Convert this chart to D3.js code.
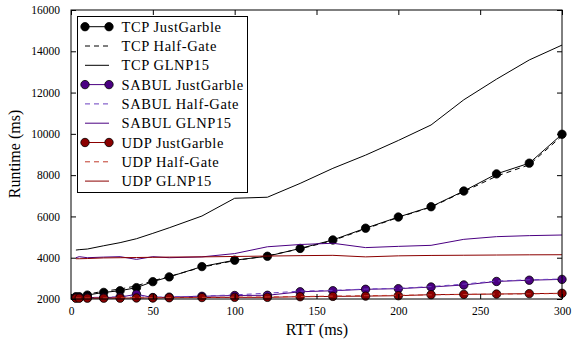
<!DOCTYPE html>
<html><head><meta charset="utf-8">
<script src="https://cdn.jsdelivr.net/npm/d3@7"></script>
<style>
body{margin:0;background:#fff;}
text{font-family:"Liberation Serif","DejaVu Serif",serif;fill:#000;}
</style></head>
<body><svg id="c" width="574" height="343"></svg>
<script>
const rtt = [3,5,10,20,30,40,50,60,80,100,120,140,160,180,200,220,240,260,280,300];
const tcpJustGarble = [2110,2110,2190,2320,2400,2550,2840,3070,3570,3880,4070,4450,4860,5430,5970,6470,7230,8060,8580,9980];
const tcpHalfGate   = [2130,2140,2230,2380,2480,2640,2880,3090,3540,3860,4090,4430,4830,5400,5950,6450,7200,7950,8500,9900];
const tcpGLNP15     = [4370,4390,4420,4580,4730,4920,5180,5450,6020,6880,6930,7600,8330,8970,9680,10430,11650,12650,13580,14300];
const sabulJustGarble = [2060,2060,2070,2070,2090,2230,2070,2090,2130,2170,2180,2350,2400,2470,2500,2580,2680,2850,2910,2950];
const sabulHalfGate   = [2070,2070,2080,2080,2110,2180,2090,2100,2140,2200,2280,2380,2420,2480,2520,2600,2720,2870,2930,2970];
const sabulGLNP15     = [4000,4050,4000,4030,4050,3920,4050,4000,4040,4200,4530,4640,4700,4490,4550,4600,4890,5020,5070,5100];
const udpJustGarble = [2040,2040,2040,2040,2040,2050,2050,2060,2070,2080,2080,2110,2125,2140,2160,2210,2225,2240,2260,2275];
const udpHalfGate   = [2050,2050,2050,2050,2060,2060,2060,2070,2080,2090,2100,2120,2140,2160,2180,2200,2220,2240,2250,2265];
const udpGLNP15     = [3950,3950,3960,3990,4000,4010,4020,4030,4040,4060,4080,4100,4115,4040,4090,4110,4120,4130,4140,4145];
const xTicks = [0,50,100,150,200,250,300];
const yTicks = [2000,4000,6000,8000,10000,12000,14000,16000];
const legendLabels = ["TCP JustGarble","TCP Half-Gate","TCP GLNP15","SABUL JustGarble","SABUL Half-Gate","SABUL GLNP15","UDP JustGarble","UDP Half-Gate","UDP GLNP15"];

const colors = {TCP:"#000000", SABUL:"#4b0082", UDP:"#8b0000"};
const dashColors = {TCP:"#000000", SABUL:"#6a3fbf", UDP:"#c0392b"};
const series = [
  {name:legendLabels[0], proto:"TCP", kind:"jg", v:tcpJustGarble},
  {name:legendLabels[1], proto:"TCP", kind:"hg", v:tcpHalfGate},
  {name:legendLabels[2], proto:"TCP", kind:"gl", v:tcpGLNP15},
  {name:legendLabels[3], proto:"SABUL", kind:"jg", v:sabulJustGarble},
  {name:legendLabels[4], proto:"SABUL", kind:"hg", v:sabulHalfGate},
  {name:legendLabels[5], proto:"SABUL", kind:"gl", v:sabulGLNP15},
  {name:legendLabels[6], proto:"UDP", kind:"jg", v:udpJustGarble},
  {name:legendLabels[7], proto:"UDP", kind:"hg", v:udpHalfGate},
  {name:legendLabels[8], proto:"UDP", kind:"gl", v:udpGLNP15}
];

const L=71, R=562, T=10, B=299;
const svg = d3.select("#c");
const x = d3.scaleLinear().domain([0,300]).range([L,R]);
const y = d3.scaleLinear().domain([2000,16000]).range([B,T]);

const plot = svg.append("g");
plot.append("defs").append("clipPath").attr("id","clip").append("rect")
  .attr("x",L).attr("y",T-6).attr("width",R-L+6).attr("height",B-T+12);
const g = plot.append("g").attr("clip-path","url(#clip)");
const line = d3.line().x((d,i)=>x(rtt[i])).y(d=>y(d));

series.forEach(s=>{
  const p = g.append("path").datum(s.v).attr("d",line)
    .attr("fill","none").attr("stroke",s.kind==="hg"?dashColors[s.proto]:colors[s.proto]).attr("stroke-width",1);
  if(s.kind==="hg") p.attr("stroke-dasharray","5,4");
  if(s.kind==="jg"){
    g.selectAll(null).data(s.v).enter().append("circle")
      .attr("cx",(d,i)=>x(rtt[i])).attr("cy",d=>y(d)).attr("r",4.2)
      .attr("fill",colors[s.proto]).attr("stroke","#000").attr("stroke-width",0.8);
  }
});

svg.append("rect").attr("x",L).attr("y",T).attr("width",R-L).attr("height",B-T)
  .attr("fill","none").attr("stroke","#000").attr("stroke-width",1);

const fs = "11.5px";
const ax = svg.append("g").attr("transform",`translate(0,${B})`)
  .call(d3.axisBottom(x).tickValues(xTicks).tickSizeInner(-5).tickSizeOuter(0).tickPadding(8));
const axT = svg.append("g").attr("transform",`translate(0,${T})`)
  .call(d3.axisTop(x).tickValues(xTicks).tickSizeInner(-5).tickSizeOuter(0).tickFormat(""));
const ay = svg.append("g").attr("transform",`translate(${L},0)`)
  .call(d3.axisLeft(y).tickValues(yTicks).tickSizeInner(-5).tickSizeOuter(0).tickPadding(11).tickFormat(d3.format("d")));
const ayR = svg.append("g").attr("transform",`translate(${R},0)`)
  .call(d3.axisRight(y).tickValues(yTicks).tickSizeInner(-5).tickSizeOuter(0).tickFormat(""));
[ax,axT,ay,ayR].forEach(a=>{
  a.select(".domain").remove();
  a.selectAll("text").style("font-family","'Liberation Serif',serif").style("font-size",fs).attr("fill","#000");
  a.selectAll("line").attr("stroke","#000");
});

svg.append("text").attr("x",317).attr("y",335).attr("text-anchor","middle")
  .style("font-size","16px").text("RTT (ms)");
svg.append("text").attr("transform","translate(20,154) rotate(-90)").attr("text-anchor","middle")
  .style("font-size","16px").text("Runtime (ms)");

const lg = svg.append("g");
lg.append("rect").attr("x",77.5).attr("y",16.5).attr("width",170).attr("height",176)
  .attr("fill","#fff").attr("stroke","#000").attr("stroke-width",1);
series.forEach((s,i)=>{
  const yy = 26.7 + i*19.3;
  const l = lg.append("line").attr("x1",85).attr("x2",109).attr("y1",yy).attr("y2",yy)
    .attr("stroke",s.kind==="hg"?dashColors[s.proto]:colors[s.proto]).attr("stroke-width",1);
  if(s.kind==="hg") l.attr("stroke-dasharray","5,4");
  if(s.kind==="jg"){
    [85,109].forEach(cx=>lg.append("circle").attr("cx",cx).attr("cy",yy).attr("r",4.2)
      .attr("fill",colors[s.proto]).attr("stroke","#000").attr("stroke-width",0.8));
  }
  lg.append("text").attr("x",121.5).attr("y",yy).attr("dy","0.35em")
    .style("font-size","14.5px").style("letter-spacing","0.6px").text(s.name);
});
</script></body></html>
